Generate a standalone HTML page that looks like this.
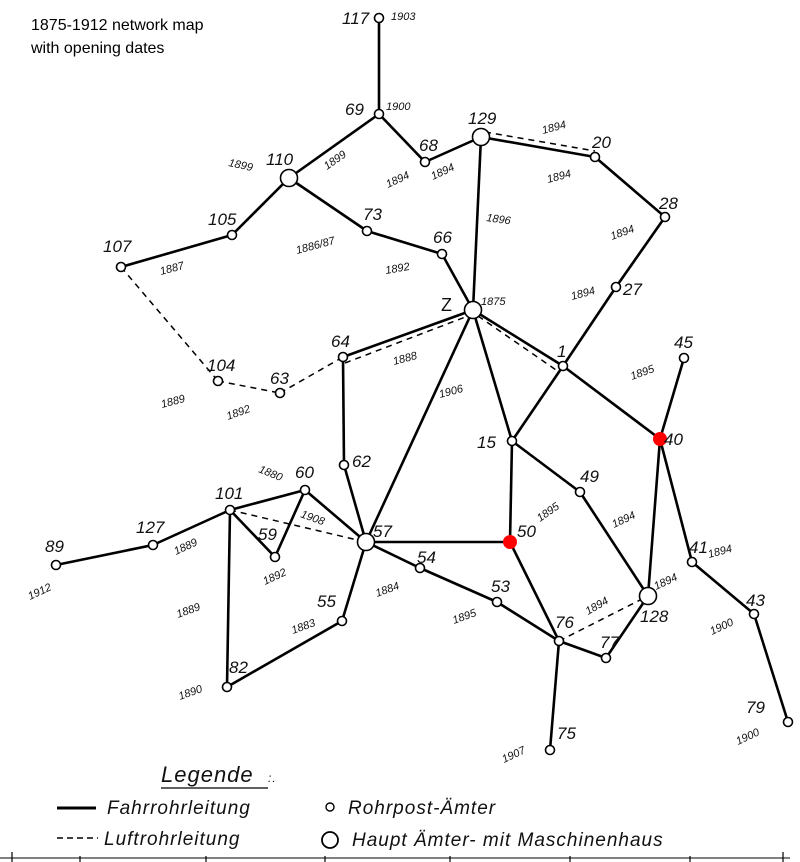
<!DOCTYPE html>
<html><head><meta charset="utf-8"><style>
html,body{margin:0;padding:0;background:#fff;}
svg{display:block}
.n{font-family:"Liberation Sans",sans-serif;font-style:italic;font-size:17px;fill:#111}
.y{font-family:"Liberation Sans",sans-serif;font-style:italic;font-size:11px;fill:#111}
.t{font-family:"Liberation Sans",sans-serif;font-size:16px;fill:#000}
.lg{font-family:"Liberation Sans",sans-serif;font-style:italic;font-size:19px;fill:#111;letter-spacing:1px}
</style></head><body>
<svg width="800" height="862" viewBox="0 0 800 862" xmlns="http://www.w3.org/2000/svg">
<text class="t" x="31" y="30">1875-1912 network map</text>
<text class="t" x="31" y="53">with opening dates</text>
<g stroke="#000" stroke-width="2.6" fill="none" stroke-linecap="round">
<line x1="379" y1="18" x2="379" y2="114"/>
<line x1="379" y1="114" x2="289" y2="178"/>
<line x1="379" y1="114" x2="425" y2="162"/>
<line x1="425" y1="162" x2="481" y2="137"/>
<line x1="481" y1="137" x2="595" y2="157"/>
<line x1="595" y1="157" x2="665" y2="217"/>
<line x1="665" y1="217" x2="616" y2="287"/>
<line x1="616" y1="287" x2="563" y2="366"/>
<line x1="289" y1="178" x2="232" y2="235"/>
<line x1="232" y1="235" x2="121" y2="267"/>
<line x1="289" y1="178" x2="367" y2="231"/>
<line x1="367" y1="231" x2="442" y2="254"/>
<line x1="442" y1="254" x2="473" y2="310"/>
<line x1="481" y1="137" x2="473" y2="310"/>
<line x1="473" y1="310" x2="343" y2="357"/>
<line x1="473" y1="310" x2="563" y2="366"/>
<line x1="473" y1="310" x2="366" y2="542"/>
<line x1="473" y1="310" x2="512" y2="441"/>
<line x1="563" y1="366" x2="512" y2="441"/>
<line x1="563" y1="366" x2="660" y2="439"/>
<line x1="684" y1="358" x2="660" y2="439"/>
<line x1="660" y1="439" x2="648" y2="596"/>
<line x1="660" y1="439" x2="692" y2="562"/>
<line x1="692" y1="562" x2="754" y2="614"/>
<line x1="754" y1="614" x2="788" y2="722"/>
<line x1="512" y1="441" x2="510" y2="542"/>
<line x1="512" y1="441" x2="580" y2="492"/>
<line x1="580" y1="492" x2="648" y2="596"/>
<line x1="648" y1="596" x2="606" y2="658"/>
<line x1="606" y1="658" x2="559" y2="641"/>
<line x1="559" y1="641" x2="550" y2="750"/>
<line x1="510" y1="542" x2="559" y2="641"/>
<line x1="497" y1="602" x2="559" y2="641"/>
<line x1="420" y1="568" x2="497" y2="602"/>
<line x1="366" y1="542" x2="420" y2="568"/>
<line x1="366" y1="542" x2="510" y2="542"/>
<line x1="366" y1="542" x2="342" y2="621"/>
<line x1="342" y1="621" x2="227" y2="687"/>
<line x1="227" y1="687" x2="230" y2="510"/>
<line x1="230" y1="510" x2="153" y2="545"/>
<line x1="153" y1="545" x2="56" y2="565"/>
<line x1="230" y1="510" x2="305" y2="490"/>
<line x1="305" y1="490" x2="275" y2="557"/>
<line x1="275" y1="557" x2="230" y2="510"/>
<line x1="305" y1="490" x2="366" y2="542"/>
<line x1="344" y1="465" x2="366" y2="542"/>
<line x1="343" y1="357" x2="344" y2="465"/>
</g>
<g stroke="#000" stroke-width="1.5" fill="none" stroke-dasharray="6,5">
<line x1="121" y1="267" x2="218" y2="381"/>
<line x1="218" y1="381" x2="280" y2="393"/>
<line x1="280" y1="393" x2="343" y2="357"/>
<line x1="345" y1="363" x2="468" y2="316"/>
<line x1="478" y1="316" x2="559" y2="372"/>
<line x1="485" y1="132" x2="595" y2="151"/>
<line x1="230" y1="510" x2="366" y2="542"/>
<line x1="559" y1="641" x2="648" y2="596"/>
</g>
<g stroke="#000" stroke-width="1.6" fill="#fff">
<circle cx="379" cy="18" r="4.5"/><circle cx="379" cy="114" r="4.5"/>
<circle cx="425" cy="162" r="4.5"/><circle cx="595" cy="157" r="4.5"/>
<circle cx="665" cy="217" r="4.5"/><circle cx="616" cy="287" r="4.5"/>
<circle cx="232" cy="235" r="4.5"/><circle cx="367" cy="231" r="4.5"/>
<circle cx="442" cy="254" r="4.5"/><circle cx="121" cy="267" r="4.5"/>
<circle cx="343" cy="357" r="4.5"/><circle cx="563" cy="366" r="4.5"/>
<circle cx="684" cy="358" r="4.5"/><circle cx="218" cy="381" r="4.5"/>
<circle cx="280" cy="393" r="4.5"/><circle cx="512" cy="441" r="4.5"/>
<circle cx="344" cy="465" r="4.5"/><circle cx="580" cy="492" r="4.5"/>
<circle cx="305" cy="490" r="4.5"/><circle cx="230" cy="510" r="4.5"/>
<circle cx="153" cy="545" r="4.5"/><circle cx="56" cy="565" r="4.5"/>
<circle cx="275" cy="557" r="4.5"/><circle cx="342" cy="621" r="4.5"/>
<circle cx="227" cy="687" r="4.5"/><circle cx="420" cy="568" r="4.5"/>
<circle cx="497" cy="602" r="4.5"/><circle cx="559" cy="641" r="4.5"/>
<circle cx="606" cy="658" r="4.5"/><circle cx="692" cy="562" r="4.5"/>
<circle cx="754" cy="614" r="4.5"/><circle cx="788" cy="722" r="4.5"/>
<circle cx="550" cy="750" r="4.5"/>
<circle cx="289" cy="178" r="8.5"/><circle cx="481" cy="137" r="8.5"/>
<circle cx="473" cy="310" r="8.5"/><circle cx="366" cy="542" r="8.5"/>
<circle cx="648" cy="596" r="8.5"/>
</g>
<circle cx="660" cy="439" r="7" fill="#f00"/>
<circle cx="510" cy="542" r="7" fill="#f00"/>
<g class="n">
<text x="342" y="24">117</text><text x="345" y="115">69</text>
<text x="266" y="165">110</text><text x="419" y="151">68</text>
<text x="468" y="124">129</text><text x="592" y="148">20</text>
<text x="659" y="209">28</text><text x="208" y="225">105</text>
<text x="363" y="220">73</text><text x="433" y="243">66</text>
<text x="103" y="252">107</text><text x="623" y="295">27</text>
<text x="441" y="311" style="font-style:normal;font-size:18px">Z</text>
<text x="331" y="347">64</text><text x="557" y="357">1</text>
<text x="674" y="348">45</text><text x="207" y="371">104</text>
<text x="270" y="384">63</text><text x="477" y="448">15</text>
<text x="664" y="445">40</text><text x="352" y="467">62</text>
<text x="580" y="482">49</text><text x="295" y="478">60</text>
<text x="215" y="499">101</text><text x="136" y="533">127</text>
<text x="45" y="552">89</text><text x="258" y="540">59</text>
<text x="373" y="537">57</text><text x="517" y="537">50</text>
<text x="317" y="607">55</text><text x="229" y="673">82</text>
<text x="417" y="563">54</text><text x="491" y="592">53</text>
<text x="555" y="628">76</text><text x="600" y="648">77</text>
<text x="640" y="622">128</text><text x="689" y="553">41</text>
<text x="746" y="606">43</text><text x="746" y="713">79</text>
<text x="557" y="739">75</text>
</g>
<g class="y">
<text x="391" y="20">1903</text><text x="386" y="110">1900</text>
<text transform="translate(228,166) rotate(12)">1899</text>
<text transform="translate(327,170) rotate(-35)">1899</text>
<text transform="translate(388,188) rotate(-25)">1894</text>
<text transform="translate(433,180) rotate(-25)">1894</text>
<text transform="translate(543,134) rotate(-15)">1894</text>
<text transform="translate(548,183) rotate(-15)">1894</text>
<text transform="translate(612,240) rotate(-20)">1894</text>
<text transform="translate(486,221) rotate(8)">1896</text>
<text transform="translate(297,254) rotate(-15)">1886/87</text>
<text transform="translate(386,274) rotate(-10)">1892</text>
<text transform="translate(161,275) rotate(-15)">1887</text>
<text transform="translate(572,300) rotate(-15)">1894</text>
<text x="481" y="305">1875</text>
<text transform="translate(394,365) rotate(-15)">1888</text>
<text transform="translate(440,398) rotate(-15)">1906</text>
<text transform="translate(632,380) rotate(-20)">1895</text>
<text transform="translate(162,408) rotate(-15)">1889</text>
<text transform="translate(228,420) rotate(-20)">1892</text>
<text transform="translate(258,472) rotate(22)">1880</text>
<text transform="translate(300,517) rotate(20)">1908</text>
<text transform="translate(540,522) rotate(-35)">1895</text>
<text transform="translate(614,528) rotate(-25)">1894</text>
<text transform="translate(709,558) rotate(-15)">1894</text>
<text transform="translate(176,555) rotate(-25)">1889</text>
<text transform="translate(30,600) rotate(-25)">1912</text>
<text transform="translate(265,585) rotate(-25)">1892</text>
<text transform="translate(178,618) rotate(-20)">1889</text>
<text transform="translate(377,597) rotate(-20)">1884</text>
<text transform="translate(293,634) rotate(-20)">1883</text>
<text transform="translate(454,624) rotate(-20)">1895</text>
<text transform="translate(588,615) rotate(-30)">1894</text>
<text transform="translate(656,590) rotate(-25)">1894</text>
<text transform="translate(712,635) rotate(-25)">1900</text>
<text transform="translate(180,700) rotate(-20)">1890</text>
<text transform="translate(504,763) rotate(-25)">1907</text>
<text transform="translate(738,745) rotate(-25)">1900</text>
</g>
<text class="lg" x="161" y="782" style="font-size:22px">Legende</text>
<text class="lg" x="268" y="782" style="font-size:12px">:.</text>
<line x1="161" y1="788" x2="268" y2="788" stroke="#000" stroke-width="1.3"/>
<line x1="57" y1="808" x2="96" y2="808" stroke="#000" stroke-width="3"/>
<line x1="57" y1="838" x2="98" y2="838" stroke="#000" stroke-width="1.5" stroke-dasharray="6,4"/>
<text class="lg" x="107" y="814">Fahrrohrleitung</text>
<text class="lg" x="104" y="845">Luftrohrleitung</text>
<circle cx="330" cy="807" r="4" fill="#fff" stroke="#000" stroke-width="1.4"/>
<circle cx="330" cy="840" r="8" fill="#fff" stroke="#000" stroke-width="1.8"/>
<text class="lg" x="348" y="814">Rohrpost-Ämter</text>
<text class="lg" x="352" y="846">Haupt Ämter- mit  Maschinenhaus</text>
<line x1="0" y1="858" x2="790" y2="858" stroke="#000" stroke-width="1"/>
<g stroke="#000" stroke-width="1.2">
<line x1="12" y1="852" x2="12" y2="862"/><line x1="80" y1="856" x2="80" y2="862"/>
<line x1="206" y1="856" x2="206" y2="862"/><line x1="325" y1="856" x2="325" y2="862"/>
<line x1="450" y1="856" x2="450" y2="862"/><line x1="570" y1="856" x2="570" y2="862"/>
<line x1="690" y1="856" x2="690" y2="862"/><line x1="783" y1="852" x2="783" y2="862"/>
</g>
</svg>
</body></html>
